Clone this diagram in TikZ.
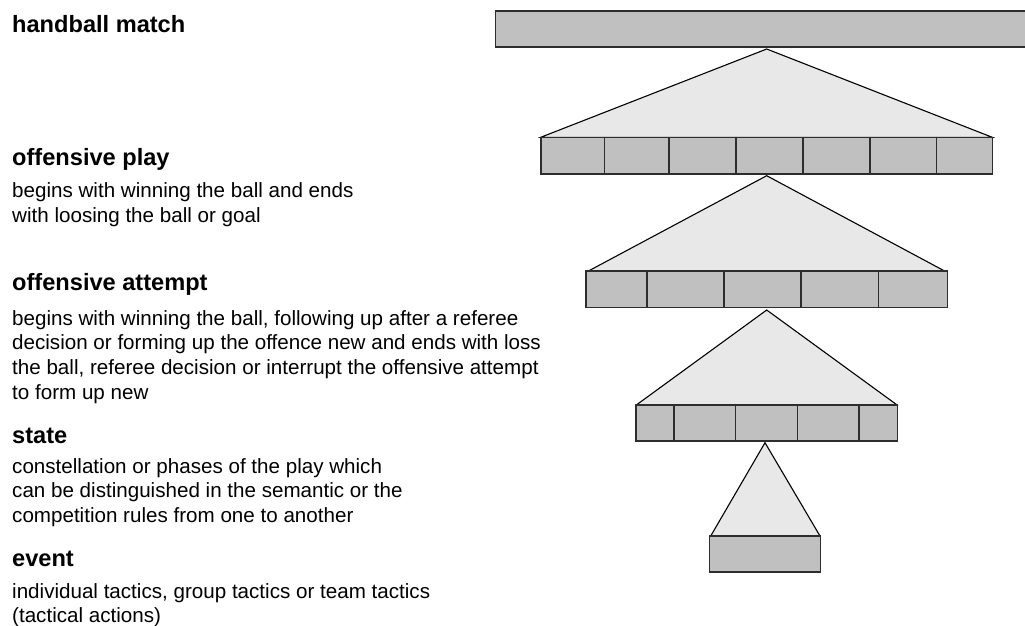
\documentclass[tikz,border=0pt]{standalone}
\usepackage{fontspec}
\setmainfont{Liberation Sans}
\definecolor{cellgray}{RGB}{192,192,192}
\definecolor{trigray}{RGB}{232,232,232}
\definecolor{edgegray}{RGB}{45,45,45}
\tikzset{
  cellbox/.style={fill=cellgray, draw=edgegray, line width=1.6pt},
  tri/.style={fill=trigray, draw=black, line width=1.1pt, line join=miter},
  heading/.style={anchor=base west, inner sep=0pt, font=\fontsize{23.6}{28}\selectfont\bfseries},
  desc/.style={anchor=north west, inner sep=0pt, align=left, font=\fontsize{20.6}{24.6}\selectfont},
}
\newcommand{\firststrut}{\rule{0pt}{20pt}}
\begin{document}
\begin{tikzpicture}[x=1pt, y=-1pt]
\useasboundingbox (0,0) rectangle (1025,625);
\clip (0,0) rectangle (1025,625);

% texts
\node[heading] (hmatch) at (12,32.7) {handball match};
\node[heading] (hplay) at (12,165.7) {offensive play};
\node[desc] (dplay) at (12,177.7) {\firststrut begins with winning the ball and ends\\with loosing the ball or goal};
\node[heading] (hattempt) at (12,290.7) {offensive attempt};
\node[desc] (dattempt) at (12,305) {\firststrut begins with winning the ball, following up after a referee\\decision or forming up the offence new and ends with loss\\the ball, referee decision or interrupt the offensive attempt\\to form up new};
\node[heading] (hstate) at (12,443.3) {state};
\node[desc] (dstate) at (12,453) {\firststrut constellation or phases of the play which\\can be distinguished in the semantic or the\\competition rules from one to another};
\node[heading] (hevent) at (12,566.7) {event};
\node[desc, font=\fontsize{20.6}{23.6}\selectfont] (devent) at (12,578.3) {\firststrut individual tactics, group tactics or team tactics\\(tactical actions)};

% apex coordinates
\coordinate (a1) at (766.7,49);
\coordinate (a2) at (766.7,175.7);
\coordinate (a3) at (766.7,310);
\coordinate (a4) at (765,442.7);

% triangles
\draw[tri] (a1) -- (540.7,137.3) -- (992.3,137.3) -- cycle;
\draw[tri] (a2) -- (589,270.7) -- (944,270.7) -- cycle;
\draw[tri] (a3) -- (636.7,404.7) -- (896.7,404.7) -- cycle;
\draw[tri] (a4) -- (710.7,536) -- (820,536) -- cycle;

% top bar
\draw[cellbox] (495.3,10.7) rectangle (1035,46.7);

% row 1
\foreach \xa/\xb in {540.7/604.3, 604.3/669, 669/735.7, 735.7/802.7, 802.7/869.7, 869.7/936.3, 936.3/992.3}
  \draw[cellbox] (\xa,137.3) rectangle (\xb,173.7);
% row 2
\foreach \xa/\xb in {586/646.7, 646.7/724, 724/801, 801/878.3, 878.3/947.3}
  \draw[cellbox] (\xa,270.7) rectangle (\xb,307.3);
% row 3
\foreach \xa/\xb in {635.7/674, 674/735.3, 735.3/797.3, 797.3/859, 859/897.3}
  \draw[cellbox] (\xa,404.7) rectangle (\xb,440.7);
% row 4
\draw[cellbox] (709.5,536) rectangle (820.5,572);
\end{tikzpicture}
\end{document}
